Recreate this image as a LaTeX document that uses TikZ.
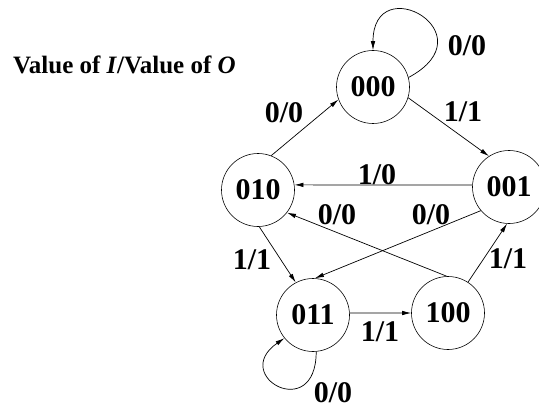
\documentclass[tikz,border=0pt]{standalone}
\usepackage{fontspec}
\setmainfont{Liberation Serif}
\usepackage{tikz}
\usetikzlibrary{arrows.meta}

\begin{document}
\begin{tikzpicture}[
    x=10pt, y=10pt,
    >={Latex[length=9pt, width=4.5pt]},
    state/.style={circle, draw, line width=0.6pt, minimum size=73pt, inner sep=0pt, font=\fontsize{30}{30}\selectfont\bfseries},
    lbl/.style={inner sep=0pt, font=\fontsize{30}{30}\selectfont\bfseries},
    heading/.style={inner sep=0pt, font=\fontsize{25}{25}\selectfont\bfseries},
    arr/.style={->, line width=0.7pt},
]

\useasboundingbox (0, 0) rectangle (53.9, 40.8);

% ---- Legend ----
\node[heading, anchor=base west] (title) at (1.3, 33.4) {Value of \textit{I}/Value of \textit{O}};

% ---- States ----
\node[state] (s000) at (37.3, 32.1) {000};
\node[state] (s010) at (25.8, 21.8) {010};
\node[state] (s001) at (50.9, 22.1) {001};
\node[state] (s011) at (31.3, 9.3) {011};
\node[state] (s100) at (44.8, 9.5) {100};

% ---- Transitions ----
\draw[arr] (s000.15) .. controls +(8.2, 4.4) and +(0, 8.2) .. (s000.90);
\draw[arr] (s010.69) -- (s000.200);
\draw[arr] (s000.343) -- (s001.123);
\draw[arr] (s001.177) -- (s010.8);
\draw[arr] (s100.92) -- (s010.322);
\draw[arr] (s001.220) -- (s011.87);
\draw[arr] (s010.272) -- (s011.118);
\draw[arr] (s011.3) -- (s100.180);
\draw[arr] (s100.57) -- (s001.267);
\draw[arr] (s011.275) .. controls +(0, -7.2) and +(-5.5, -3.8) .. (s011.219);

% ---- Input/output labels ----
\node[lbl] (l000) at (46.7, 36.2) {0/0};
\node[lbl] (l010a) at (28.4, 29.5) {0/0};
\node[lbl] (l000b) at (46.3, 29.6) {1/1};
\node[lbl] (l001a) at (37.7, 23.3) {1/0};
\node[lbl] (l100a) at (33.7, 19.3) {0/0};
\node[lbl] (l001b) at (43.1, 19.3) {0/0};
\node[lbl] (l010b) at (25.2, 14.8) {1/1};
\node[lbl] (l100b) at (50.8, 14.9) {1/1};
\node[lbl] (l011a) at (38.0, 7.6) {1/1};
\node[lbl] (l011) at (33.3, 1.5) {0/0};

\end{tikzpicture}
\end{document}
